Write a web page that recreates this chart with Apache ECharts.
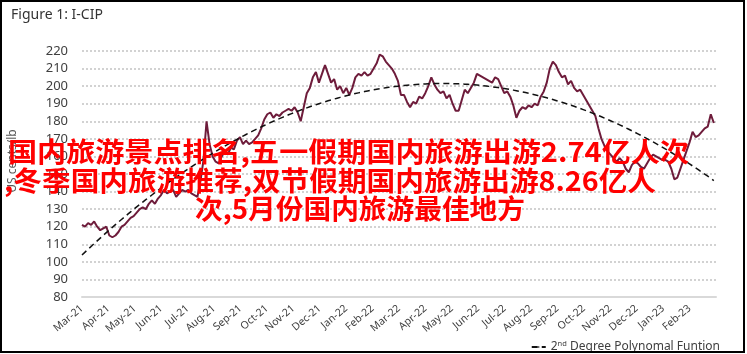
<!DOCTYPE html>
<html>
<head>
<meta charset="utf-8">
<script src="https://cdn.jsdelivr.net/npm/echarts@6/dist/echarts.min.js"></script>
<style>
html,body{margin:0;padding:0;background:#fff;}
#c{width:747px;height:354px;}
</style>
</head>
<body>
<div id="c"></div>
<script>
// ---- data ----
const titleText = 'Figure 1: I-CIP';
const yAxisName = 'US cents/lb';
const monthLabels = ['Mar-21','Apr-21','May-21','Jun-21','Jul-21','Aug-21','Sep-21','Oct-21','Nov-21','Dec-21','Jan-22','Feb-22',
  'Mar-22','Apr-22','May-22','Jun-22','Jul-22','Aug-22','Sep-22','Oct-22','Nov-22','Dec-22','Jan-23','Feb-23'];
const yMin = 80, yMax = 220, yStep = 10;
const stepDays = 3.5;            // observations roughly twice a week, from 1 Mar 2021
const daysPerMonth = 730.5 / 24;
const prices = [
  121,120,122,121,123,120,118,119,120,115,114,115,117,120,121,123,125,126,128,130,
  131,130,133,135,133,136,138,141,139,140,141,137,139,141,140,141,139,138,137,146,
  158,180,167,160,157,156,160,163,161,165,164,169,171,167,169,167,168,170,172,176,
  181,184,185,182,184,183,185,186,187,186,188,185,180,188,196,199,205,208,202,207,
  212,207,202,204,198,200,196,199,195,199,205,207,206,208,206,207,210,213,218,217,
  214,212,210,207,203,195,195,191,188,191,190,194,193,196,200,205,201,198,196,197,
  193,195,190,186,186,192,198,196,199,202,207,206,205,204,203,202,205,204,200,196,
  197,194,189,182,186,188,187,189,188,190,189,194,197,202,210,214,212,208,205,206,
  201,203,199,197,198,195,192,189,186,183,176,170,166,163,161,159,157,159,157,153,
  151,155,157,156,154,153,156,159,161,160,159,158,158,157,153,147,148,153,158,163,
  168,174,171,172,174,176,177,184,179
];
const trendName = 'trend';
const legendLabel = '2{sup|nd} Degree Polynomal Funtion';
const overlayLines = [
  '国内旅游景点排名,五一假期国内旅游出游2.74亿人次',
  ',冬季国内旅游推荐,双节假期国内旅游出游8.26亿人',
  '次,5月份国内旅游最佳地方'
];

// ---- build ----
const xs = prices.map((_, i) => i * stepDays / daysPerMonth);
const priceData = prices.map((v, i) => [xs[i], v]);

// least-squares 2nd degree polynomial fit of the price series
function quadFit(x, y) {
  let s0=0,s1=0,s2=0,s3=0,s4=0,t0=0,t1=0,t2=0;
  for (let i=0;i<x.length;i++){
    const a=x[i], b=y[i], a2=a*a;
    s0+=1; s1+=a; s2+=a2; s3+=a2*a; s4+=a2*a2;
    t0+=b; t1+=a*b; t2+=a2*b;
  }
  const M=[[s0,s1,s2],[s1,s2,s3],[s2,s3,s4]], R=[t0,t1,t2];
  const det=m=>m[0][0]*(m[1][1]*m[2][2]-m[1][2]*m[2][1])-m[0][1]*(m[1][0]*m[2][2]-m[1][2]*m[2][0])+m[0][2]*(m[1][0]*m[2][1]-m[1][1]*m[2][0]);
  const D=det(M);
  const out=[];
  for(let k=0;k<3;k++){
    const Mk=M.map((row,r)=>row.map((v,c)=>c===k?R[r]:v));
    out.push(det(Mk)/D);
  }
  return out;
}
const [c0,c1,c2] = quadFit(xs, prices);
const trendData = xs.map(x => [x, c0 + c1*x + c2*x*x]);

// overlay text layout (left x, centre y, target width)
const overlayFont = 'bold 27px "Noto Sans CJK SC"';
const overlayBoxes = [[8, 152, 681], [4, 181, 652], [195, 209, 330]];
const mctx = document.createElement('canvas').getContext('2d');
mctx.font = overlayFont;
const overlayGraphics = overlayLines.map((t, k) => {
  const [x, y, w] = overlayBoxes[k];
  const mw = mctx.measureText(t).width || w;
  return {type: 'text', x: x, y: y, z: 50, scaleX: w / mw, originX: 0, originY: 0,
    style: {text: t, font: overlayFont, fill: '#ff0000', textAlign: 'left', textVerticalAlign: 'middle'}};
});

const chart = echarts.init(document.getElementById('c'), null, {renderer:'canvas'});
const font = '"Noto Sans", "DejaVu Sans", sans-serif';
function render() {
chart.setOption({
  animation: false,
  backgroundColor: '#fff',
  grid: {left: 82, right: 31, top: 51, bottom: 57, containLabel: false},
  xAxis: {
    type: 'value', min: 0, max: monthLabels.length, interval: 1,
    axisLine: {show: true, lineStyle: {color: '#d9d9d9', width: 2}},
    axisTick: {show: false},
    splitLine: {show: false},
    axisLabel: {
      rotate: 40, margin: 10, fontSize: 10.5, color: '#404040', fontFamily: font,
      formatter: v => (monthLabels[v] !== undefined ? monthLabels[v] : ''),
      showMaxLabel: false
    }
  },
  yAxis: {
    type: 'value', min: yMin, max: yMax, interval: yStep,
    axisLine: {show: false}, axisTick: {show: false},
    axisLabel: {margin: 14, fontSize: 13, color: '#404040', fontFamily: font},
    splitLine: {show: true, lineStyle: {color: '#d2d2d2', width: 2, type: [2, 2]}}
  },
  legend: {
    data: [trendName], right: 22, top: 335, itemWidth: 14, itemHeight: 2, itemGap: 4,
    formatter: () => legendLabel,
    textStyle: {
      fontSize: 12, color: '#404040', fontFamily: font,
      rich: {sup: {fontSize: 7.5, verticalAlign: 'top', color: '#404040', padding: [0,0,6,0]}}
    }
  },
  series: [
    {
      name: 'I-CIP', type: 'line', data: priceData, showSymbol: false, symbol: 'none',
      lineStyle: {color: '#6e1c3b', width: 2}, z: 3
    },
    {
      name: trendName, type: 'line', data: trendData, showSymbol: false, symbol: 'none',
      lineStyle: {color: '#111', width: 1.5, type: [6, 4]}, itemStyle: {color: '#111'}, z: 4
    }
  ],
  graphic: [
    {type: 'rect', shape: {x: 1, y: 1, width: 743, height: 351}, style: {fill: null, stroke: '#000', lineWidth: 2}, z: 100},
    {type: 'text', left: 11, top: 8, style: {text: titleText, font: '14px ' + font, fill: '#333'}},
    {type: 'text', x: 13, y: 161, rotation: Math.PI/2, style: {text: yAxisName, font: '12px ' + font, fill: '#595959', textAlign: 'center', textVerticalAlign: 'middle'}}
  ].concat(overlayGraphics)
});
}
render();
</script>
</body>
</html>
